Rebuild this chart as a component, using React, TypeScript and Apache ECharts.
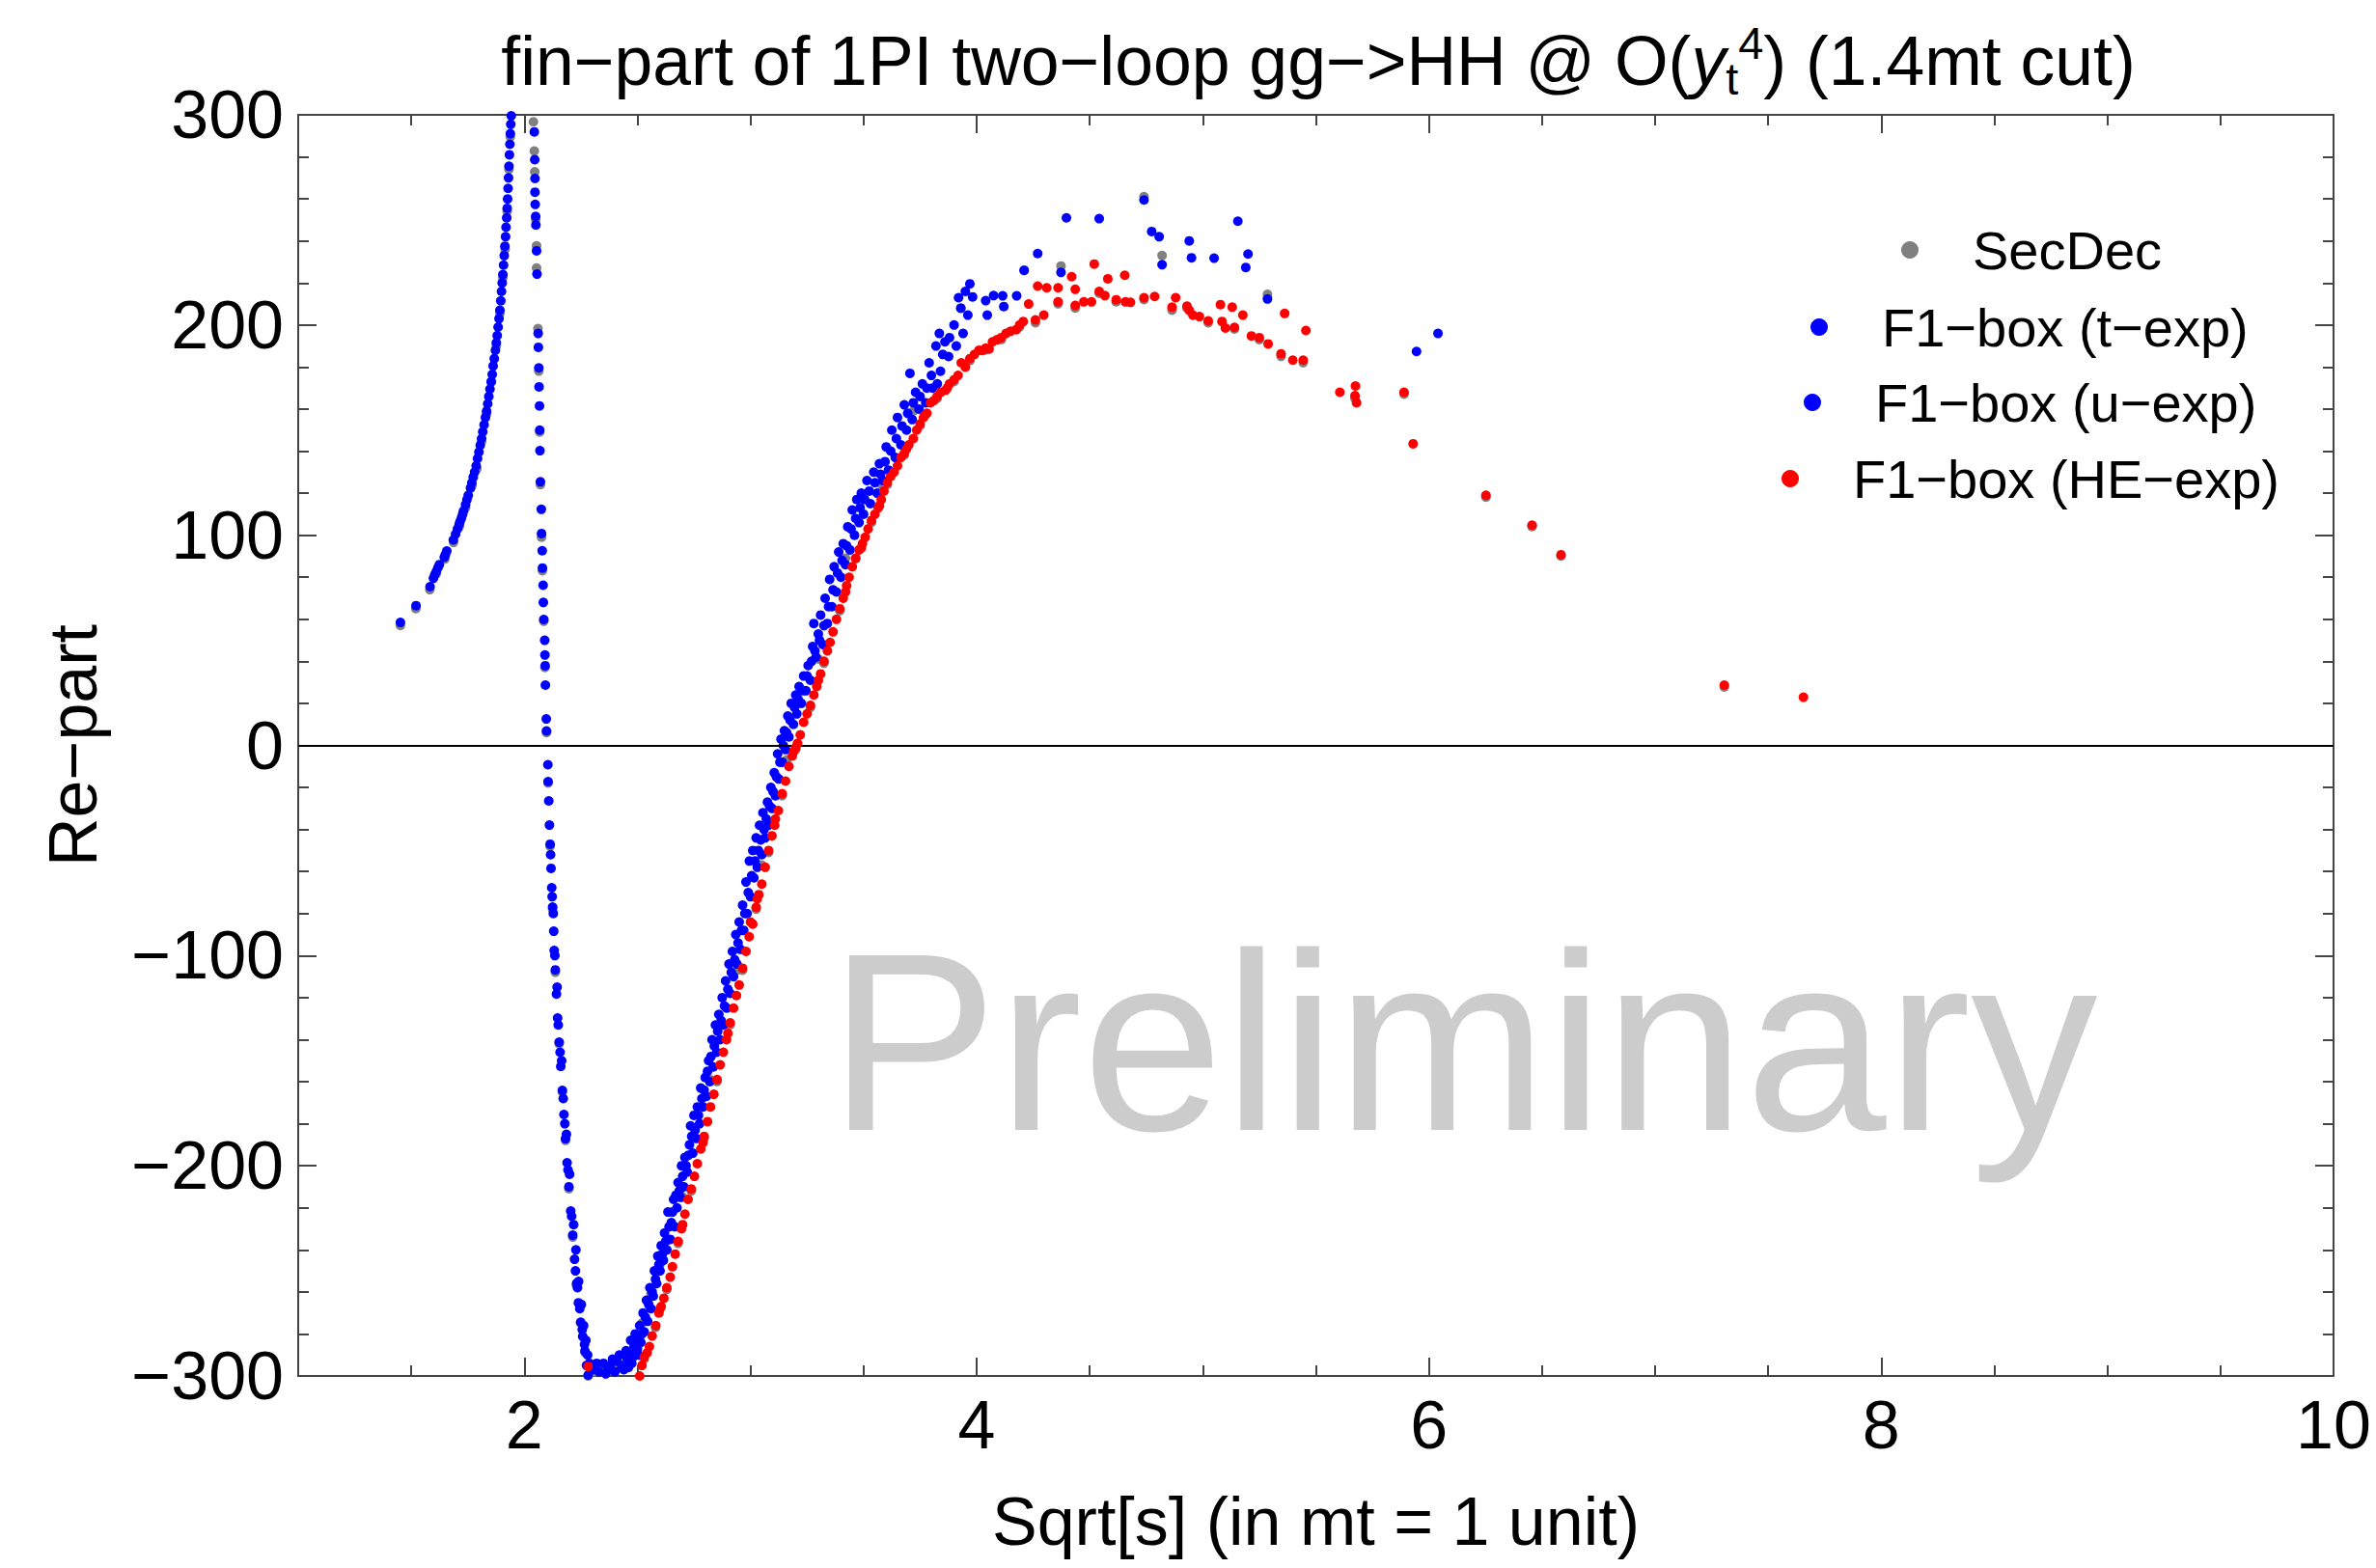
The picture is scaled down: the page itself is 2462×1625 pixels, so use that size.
import React, { useEffect, useRef } from 'react';
import * as echarts from 'echarts';

const FONT = '"Liberation Sans", Arial, sans-serif';

const X_MIN = 1;
const X_MAX = 10;
const Y_MIN = -300;
const Y_MAX = 300;
const xMajorTicks = [2, 4, 6, 8, 10];

const seriesNames = ['SecDec', 'F1−box (t−exp)', 'F1−box (u−exp)', 'F1−box (HE−exp)'];
const seriesColors = ['#808080', '#0000ff', '#0000ff', '#ff0000'];

const titleText = '{n|fin−part of 1PI two−loop gg−>HH @ O(}{i|y}{sub|t}{sup|4}{n|) (1.4mt cut)}';
const xName = 'Sqrt[s] (in mt = 1 unit)';
const yName = 'Re−part';
const watermark = 'Preliminary';

const secDec: [number, number][] = [
  [1.452, 58], [1.52, 66], [1.582, 75], [1.61, 82.5], [1.648, 89.5], [1.687, 97.5], [1.712, 105], [1.74, 114],
  [1.768, 124.5], [1.79, 132.5], [1.811, 145.5], [1.833, 158.5], [1.855, 174], [1.876, 191], [1.892, 206.5],
  [1.905, 223.5], [1.915, 237], [1.924, 255], [1.932, 275], [1.938, 290.5],
  [2.04, 297.6], [2.044, 283.7], [2.046, 273.8], [2.05, 251], [2.054, 238.6], [2.054, 228], [2.06, 199.2],
  [2.064, 179], [2.068, 150], [2.071, 125], [2.076, 100], [2.08, 84], [2.086, 60], [2.091, 38], [2.098, 7],
  [2.105, -17], [2.114, -47], [2.125, -77], [2.137, -107], [2.154, -141], [2.168, -164], [2.182, -187],
  [2.197, -210], [2.214, -233], [2.231, -256], [2.249, -274], [2.268, -288], [2.282, -299],
  [2.31, -297], [2.36, -296], [2.41, -295], [2.45, -290], [2.49, -286], [2.52, -274], [2.56, -260], [2.6, -246],
  [2.53, -291], [2.58, -276], [2.63, -258], [2.68, -236], [2.738, -211], [2.795, -186], [2.852, -159],
  [2.91, -132], [2.965, -106], [3.025, -77], [3.08, -50], [3.14, -23], [3.2, -1], [3.265, 19], [3.325, 40],
  [3.395, 65], [3.465, 90], [3.535, 107], [3.605, 125], [3.68, 139], [3.75, 153], [3.825, 166], [3.9, 174],
  [3.97, 184], [4.04, 189], [4.109, 194], [4.19, 200], [4.26, 202], [4.36, 211], [4.436, 209], [4.542, 216],
  [4.617, 212], [4.74, 213], [4.864, 208], [4.93, 209], [5.024, 202], [5.14, 199], [5.25, 194], [5.346, 186],
  [5.444, 183], [5.673, 166], [5.89, 168], [6.252, 119], [6.456, 105], [6.584, 91], [7.306, 28.7],
  [4.373, 229], [4.82, 234], [5.286, 215.5], [4.74, 262], [4.21, 227], [3.93, 209],
  [2.7, -214], [2.82, -158], [2.94, -106], [3.05, -56], [3.16, -6], [3.3, 42], [3.42, 90], [3.58, 125], [3.72, 160],
];

const tExp: [number, number][] = [
  [1.452, 58.5], [1.521, 66.5], [1.583, 75.5], [1.598, 79.5], [1.604, 81.2], [1.611, 82.8], [1.618, 84.6],
  [1.624, 86.0], [1.646, 89.5], [1.651, 90.8], [1.657, 92.5], [1.686, 97.8], [1.696, 100.5], [1.704, 103.0],
  [1.712, 105.2], [1.716, 106.6], [1.722, 108.2], [1.727, 110.0], [1.731, 111.5], [1.74, 114.5], [1.746, 116.8],
  [1.752, 119.0], [1.762, 122.5], [1.768, 125.0], [1.774, 127.6], [1.78, 130.0], [1.787, 133.0], [1.793, 136.5],
  [1.799, 139.5], [1.805, 142.8], [1.811, 146.0], [1.816, 149.2], [1.822, 152.5], [1.828, 156.0], [1.833, 159.0],
  [1.838, 162.5], [1.843, 166.0], [1.848, 169.5], [1.853, 173.0], [1.858, 176.5], [1.862, 180.5], [1.867, 184.0],
  [1.872, 188.0], [1.876, 191.5], [1.88, 195.0], [1.884, 199.0], [1.888, 203.0], [1.892, 207.0], [1.896, 211.5],
  [1.899, 216.0], [1.902, 220.0], [1.905, 224.0], [1.908, 228.5], [1.911, 233.0], [1.914, 237.5], [1.917, 242.0],
  [1.919, 246.5], [1.922, 251.0], [1.924, 255.5], [1.926, 260.0], [1.928, 265.0], [1.93, 270.0], [1.932, 275.5],
  [1.934, 281.0], [1.936, 286.0], [1.938, 291.0], [1.94, 295.5], [1.942, 299.5],
  [2.044, 291.9], [2.046, 278.7], [2.047, 269.7], [2.047, 263.2], [2.048, 257.4], [2.05, 251.7], [2.051, 247.6],
  [2.054, 235.3], [2.056, 224.2], [2.061, 196.0], [2.062, 189.4], [2.064, 179.6], [2.065, 170.6], [2.067, 161.5],
  [2.068, 150.0], [2.069, 140.2], [2.071, 125.4], [2.075, 112.3], [2.076, 100.8], [2.079, 92.6], [2.08, 84.4],
  [2.083, 76.2], [2.084, 68.0], [2.086, 59.9], [2.09, 50.0], [2.091, 43.0], [2.092, 37.9], [2.093, 28.7],
  [2.097, 12.6], [2.098, 6.9],
  [2.104, -9.2], [2.105, -17.2], [2.108, -26.4], [2.111, -37.9], [2.114, -47.0], [2.118, -58.5], [2.121, -67.7],
  [2.125, -76.9], [2.13, -88.4], [2.132, -97.6], [2.137, -106.8], [2.142, -118.3], [2.147, -129.7], [2.154, -141.2],
  [2.161, -152.7], [2.168, -164.1], [2.175, -175.6], [2.182, -187.1], [2.189, -198.6], [2.197, -210.0],
  [2.205, -221.5], [2.214, -233.0], [2.222, -244.5], [2.231, -256.0], [2.239, -265.2], [2.249, -274.4],
  [2.258, -281.2], [2.268, -288.1], [2.275, -295.0], [2.282, -299.6],
  [2.128, -80], [2.145, -115], [2.165, -150], [2.186, -185], [2.2, -204], [2.218, -228], [2.228, -240],
  [2.24, -255], [2.252, -266], [2.262, -276], [2.272, -283], [2.28, -290], [2.288, -294], [2.296, -297],
  [2.116, -52], [2.123, -72], [2.135, -100], [2.15, -133], [2.158, -146], [2.172, -168], [2.179, -180],
  [2.193, -202], [2.209, -224], [2.226, -250], [2.235, -258], [2.245, -268], [2.256, -278], [2.266, -285],
];

const uExp: [number, number][] = [
  [2.3, -297], [2.33, -298], [2.35, -294], [2.37, -297], [2.39, -292], [2.4, -298], [2.42, -290], [2.43, -295],
  [2.45, -288], [2.46, -296], [2.47, -283], [2.48, -291], [2.49, -280], [2.5, -287], [2.51, -276], [2.515, -284],
  [2.525, -270], [2.53, -279], [2.54, -264], [2.545, -274], [2.555, -258], [2.56, -268], [2.57, -262], [2.575, -250],
  [2.585, -256], [2.59, -243], [2.6, -250], [2.605, -238], [2.615, -245], [2.62, -232], [2.63, -240], [2.635, -222],
  [2.645, -235], [2.65, -227], [2.66, -216], [2.665, -229], [2.675, -220], [2.68, -208], [2.69, -215], [2.695, -200],
  [2.705, -210], [2.71, -196], [2.72, -203], [2.73, -190], [2.735, -181], [2.745, -194], [2.75, -176], [2.76, -187],
  [2.765, -172], [2.775, -180], [2.78, -163], [2.79, -172], [2.8, -158], [2.805, -167], [2.815, -150], [2.82, -160],
  [2.83, -140], [2.835, -153], [2.845, -133], [2.85, -146], [2.86, -128], [2.865, -140], [2.875, -120], [2.88, -133],
  [2.89, -112], [2.895, -125], [2.905, -104], [2.91, -118], [2.92, -98], [2.925, -110], [2.935, -90], [2.94, -104],
  [2.95, -84], [2.955, -97], [2.965, -76], [2.97, -88], [2.98, -65], [2.985, -80], [2.995, -55], [3.0, -72],
  [3.01, -50], [3.015, -63], [3.025, -44], [3.03, -58], [3.04, -38], [3.05, -52], [3.055, -32], [3.065, -44],
  [3.075, -27], [3.08, -38], [3.09, -20], [3.095, -30], [3.105, -13], [3.11, -24], [3.12, -4], [3.125, -16],
  [3.135, 3], [3.14, -8], [3.15, 7], [3.155, -2], [3.165, 14], [3.17, 4], [3.18, 20], [3.19, 10], [3.2, 24],
  [3.205, 15], [3.215, 28], [3.225, 20], [3.235, 33], [3.245, 26], [3.255, 38], [3.265, 31], [3.275, 47],
  [3.28, 58], [3.29, 42], [3.3, 53], [3.31, 62], [3.32, 48], [3.33, 70], [3.34, 58], [3.35, 79], [3.36, 66],
  [3.37, 85], [3.38, 73], [3.39, 92], [3.4, 80], [3.41, 96], [3.42, 86], [3.43, 104], [3.44, 93], [3.45, 112],
  [3.46, 100], [3.47, 117], [3.48, 106], [3.49, 120], [3.5, 110], [3.515, 126], [3.53, 115], [3.545, 130],
  [3.56, 120], [3.57, 134], [3.585, 126], [3.6, 142], [3.61, 131], [3.625, 150], [3.64, 137], [3.65, 156],
  [3.665, 143], [3.68, 162], [3.69, 150], [3.705, 177], [3.715, 155], [3.73, 168], [3.745, 160], [3.76, 172],
  [3.775, 163], [3.79, 182], [3.805, 170], [3.826, 172], [3.82, 190], [3.835, 196], [3.85, 186], [3.876, 185],
  [3.9, 200], [3.92, 213], [3.93, 208], [3.95, 216], [3.961, 204.7], [3.97, 219.6], [3.982, 213.4], [4.04, 211.6],
  [4.047, 204.7], [4.075, 214], [4.115, 213.9], [4.12, 208.8], [4.177, 213.9], [4.21, 226], [4.27, 234],
  [4.373, 225], [4.397, 251], [4.542, 250.6], [4.74, 259.5], [4.774, 244.5], [4.807, 242], [4.82, 228.7],
  [4.94, 240], [4.95, 232], [5.05, 231.8], [5.155, 249.4], [5.19, 227.4], [5.2, 233.8], [5.286, 212.4],
  [5.945, 187.4], [6.04, 196],
  [2.32, -294], [2.36, -299], [2.38, -295], [2.41, -293], [2.44, -297], [2.455, -292], [2.465, -289], [2.475, -294],
  [2.485, -286], [2.495, -283], [2.505, -290], [2.52, -280], [2.535, -272], [2.55, -266], [2.565, -260],
  [2.58, -254], [2.595, -247], [2.61, -242], [2.625, -236], [2.64, -229], [2.655, -222], [2.67, -214],
  [2.685, -212], [2.7, -205], [2.715, -200], [2.725, -195], [2.74, -186], [2.755, -183], [2.77, -176],
  [2.785, -168], [2.795, -164], [2.81, -155], [2.825, -148], [2.84, -143], [2.855, -136], [2.87, -131],
  [2.885, -124], [2.9, -116], [2.915, -108], [2.93, -102], [2.945, -94], [2.96, -88], [2.975, -80], [2.99, -70],
  [3.005, -62], [3.02, -55], [3.035, -50], [3.045, -45], [3.06, -40], [3.07, -35], [3.085, -29], [3.1, -22],
  [3.115, -15], [3.13, -8], [3.145, 0], [3.16, 6], [3.175, 12], [3.195, 18], [3.21, 22], [3.23, 26], [3.25, 33],
  [3.27, 40], [3.285, 45], [3.305, 50], [3.325, 57], [3.345, 66], [3.365, 74], [3.385, 82], [3.405, 88],
  [3.425, 95], [3.445, 103], [3.465, 108], [3.485, 113], [3.505, 117], [3.525, 121], [3.55, 125], [3.575, 129],
  [3.595, 135], [3.62, 140], [3.645, 146], [3.67, 152], [3.695, 158], [3.72, 163], [3.75, 166], [3.78, 170],
  [3.8, 176], [3.84, 178], [3.86, 192], [3.88, 194], [3.91, 190], [3.94, 196],
];

const heExp: [number, number][] = [
  [2.282, -295.5],
  [2.51, -300], [2.52, -295], [2.53, -291], [2.543, -289], [2.553, -286], [2.565, -281], [2.581, -276],
  [2.595, -270], [2.605, -267], [2.617, -263], [2.63, -258], [2.645, -253], [2.655, -248], [2.667, -242],
  [2.68, -236], [2.695, -230], [2.71, -223], [2.724, -216], [2.738, -211], [2.752, -205], [2.765, -199],
  [2.78, -192], [2.795, -186], [2.81, -179], [2.823, -172], [2.838, -166], [2.852, -159], [2.866, -152],
  [2.88, -146], [2.894, -140], [2.91, -132], [2.925, -125], [2.938, -119], [2.95, -114], [2.965, -106],
  [2.98, -98], [2.994, -91], [3.01, -85], [3.025, -77], [3.037, -71], [3.05, -66], [3.065, -58], [3.08, -50],
  [3.095, -43], [3.107, -38], [3.123, -31], [3.14, -23], [3.155, -17], [3.17, -10], [3.185, -5], [3.2, -1],
  [3.208, 1], [3.22, 5], [3.235, 11], [3.25, 15], [3.265, 19], [3.28, 24], [3.293, 28], [3.31, 34], [3.325, 40],
  [3.34, 45], [3.352, 49], [3.365, 54], [3.38, 60], [3.395, 65], [3.41, 70], [3.425, 76], [3.436, 80], [3.45, 85],
  [3.465, 89], [3.48, 93], [3.495, 96], [3.507, 99], [3.52, 103], [3.535, 107], [3.55, 110], [3.565, 113],
  [3.578, 117], [3.59, 121], [3.605, 125], [3.62, 128], [3.635, 130], [3.65, 133], [3.665, 137], [3.68, 139],
  [3.7, 143], [3.72, 146], [3.735, 150], [3.75, 153], [3.765, 156], [3.78, 158], [3.796, 163], [3.81, 164],
  [3.825, 166], [3.842, 168], [3.863, 169], [3.88, 172], [3.9, 174], [3.918, 176], [3.932, 182], [3.95, 180],
  [3.97, 184], [3.99, 186], [4.01, 188], [4.025, 187.9], [4.04, 189], [4.055, 188.6], [4.07, 192], [4.09, 193],
  [4.109, 194], [4.13, 196], [4.15, 197], [4.175, 197.8], [4.19, 200], [4.206, 201.7],
  [3.0, -84], [3.03, -73], [3.11, -35], [3.19, -3], [3.3, 31], [3.42, 73], [3.49, 94], [3.57, 114], [3.69, 141],
  [3.77, 157], [3.87, 170], [2.9, -137], [2.79, -189], [2.7, -228], [2.6, -268],
  [4.23, 210], [4.26, 202.4], [4.27, 218.5], [4.297, 204.7], [4.31, 217.7], [4.36, 217.7], [4.36, 211],
  [4.42, 223], [4.436, 217], [4.436, 209.3], [4.474, 211], [4.508, 211], [4.52, 229], [4.542, 216], [4.567, 214],
  [4.58, 222], [4.617, 212], [4.655, 223.7], [4.658, 211], [4.68, 210.8], [4.74, 213], [4.787, 213.6],
  [4.864, 208.5], [4.88, 213], [4.93, 209], [4.94, 207], [4.956, 204.7], [4.985, 204], [5.024, 202],
  [5.078, 209.7], [5.085, 201.7], [5.1, 198.6], [5.13, 208.5], [5.14, 198.9], [5.177, 204.7], [5.215, 194.8],
  [5.25, 194], [5.289, 191], [5.346, 186.3], [5.362, 205.5], [5.398, 183.3], [5.444, 183.3], [5.456, 197.4],
  [5.606, 168], [5.675, 171], [5.673, 166.4], [5.68, 163], [5.89, 168], [5.93, 143.5],
  [6.252, 119], [6.456, 104.8], [6.584, 90.7], [7.306, 28.7], [7.656, 22.9],
];

const seriesData = [secDec, tExp, uExp, heExp];

// legend rows: [icon left, top]
const legendPos: [number, number][] = [
  [1970, 229],
  [1876, 309],
  [1869, 387],
  [1846, 466],
];

const AXIS_COLOR = '#444';

function fmtMinus(v: number): string {
  return String(v).replace('-', '−');
}

export default function App() {
  const ref = useRef<HTMLDivElement>(null);

  useEffect(() => {
    if (!ref.current) return;
    const chart = echarts.init(ref.current, undefined, { renderer: 'svg' });

    const lineStyle = { color: AXIS_COLOR, width: 2 };

    const xCommon = {
      type: 'value' as const,
      min: X_MIN,
      max: X_MAX,
      splitLine: { show: false },
    };

    const baseRich = { color: '#000', fontFamily: FONT, fontWeight: 'normal' };

    const option: any = {
      animation: false,
      backgroundColor: '#ffffff',
      textStyle: { fontFamily: FONT },
      title: {
        text: titleText,
        left: 1366,
        top: 21,
        textAlign: 'center',
        padding: 0,
        textStyle: {
          fontWeight: 'normal',
          rich: {
            n: { ...baseRich, fontSize: 71.5, lineHeight: 84 },
            i: { ...baseRich, fontSize: 71.5, lineHeight: 84, fontStyle: 'italic' },
            sub: { ...baseRich, fontSize: 47, lineHeight: 46, verticalAlign: 'bottom' },
            sup: { ...baseRich, fontSize: 47, lineHeight: 46, verticalAlign: 'top' },
          },
        },
      },
      legend: seriesNames.map((name, i) => ({
        data: [name],
        left: legendPos[i][0],
        top: legendPos[i][1],
        padding: 0,
        orient: 'vertical',
        icon: 'circle',
        itemWidth: 18,
        itemHeight: 18,
        selectedMode: false,
        textStyle: {
          fontSize: 56,
          lineHeight: 60,
          color: '#000',
          fontFamily: FONT,
          padding: [0, 0, 0, 51],
        },
      })),
      grid: { left: 309, right: 44, top: 119, bottom: 199, containLabel: false },
      xAxis: [
        {
          ...xCommon,
          position: 'bottom',
          interval: 0.5,
          axisLine: { show: true, onZero: false, lineStyle },
          axisTick: { show: true, inside: true, length: 11, lineStyle },
          axisLabel: {
            show: true,
            customValues: xMajorTicks,
            margin: 16,
            fontSize: 70,
            color: '#000',
            fontFamily: FONT,
            formatter: (v: number) => (xMajorTicks.indexOf(v) >= 0 ? String(v) : ''),
          },
          name: xName,
          nameLocation: 'middle',
          nameGap: 116,
          nameTextStyle: { fontSize: 70, color: '#000', fontFamily: FONT },
        },
        {
          ...xCommon,
          position: 'bottom',
          axisLine: { show: false, onZero: false },
          axisTick: { show: true, inside: true, length: 19, customValues: xMajorTicks, lineStyle },
          axisLabel: { show: false },
        },
        {
          ...xCommon,
          position: 'top',
          interval: 0.5,
          axisLine: { show: true, onZero: false, lineStyle },
          axisTick: { show: true, inside: true, length: 11, lineStyle },
          axisLabel: { show: false },
        },
        {
          ...xCommon,
          position: 'top',
          axisLine: { show: false, onZero: false },
          axisTick: { show: true, inside: true, length: 19, customValues: xMajorTicks, lineStyle },
          axisLabel: { show: false },
        },
      ],
      yAxis: [
        {
          type: 'value',
          position: 'left',
          min: Y_MIN,
          max: Y_MAX,
          interval: 100,
          axisLine: { show: true, onZero: false, lineStyle },
          axisTick: { show: true, inside: true, length: 19, lineStyle },
          minorTick: { show: true, splitNumber: 5, length: 11, lineStyle },
          splitLine: { show: false },
          minorSplitLine: { show: false },
          axisLabel: {
            margin: 15,
            fontSize: 70,
            color: '#000',
            fontFamily: FONT,
            formatter: (v: number) => fmtMinus(v),
          },
          name: yName,
          nameLocation: 'middle',
          nameGap: 198,
          nameRotate: 90,
          nameTextStyle: { fontSize: 70, color: '#000', fontFamily: FONT },
        },
        {
          type: 'value',
          position: 'right',
          min: Y_MIN,
          max: Y_MAX,
          interval: 100,
          axisLine: { show: true, onZero: false, lineStyle },
          axisTick: { show: true, inside: true, length: 19, lineStyle },
          minorTick: { show: true, splitNumber: 5, length: 11, lineStyle },
          splitLine: { show: false },
          minorSplitLine: { show: false },
          axisLabel: { show: false },
        },
      ],
      graphic: [
        {
          type: 'text',
          z: 0,
          silent: true,
          style: {
            text: watermark,
            x: 1516,
            y: 1080,
            align: 'center',
            verticalAlign: 'middle',
            fontSize: 263,
            fontFamily: FONT,
            fill: '#cccccc',
          },
        },
      ],
      series: seriesNames.map((name, i) => ({
        name,
        type: 'scatter',
        xAxisIndex: 0,
        yAxisIndex: 0,
        data: seriesData[i],
        symbol: 'circle',
        symbolSize: 10,
        symbolOffset: i === 0 ? [0, 2] : [0, 0],
        itemStyle: { color: seriesColors[i], opacity: 1 },
        z: 2 + i,
        silent: true,
        markLine:
          i === 0
            ? {
                silent: true,
                symbol: ['none', 'none'],
                label: { show: false },
                lineStyle: { color: '#000', width: 2, type: 'solid' },
                data: [{ yAxis: 0 }],
              }
            : undefined,
      })),
    };

    chart.setOption(option);
    return () => chart.dispose();
  }, []);

  return (
    <div
      ref={ref}
      style={{ position: 'absolute', left: 0, top: 0, width: 2462, height: 1625 }}
    />
  );
}
